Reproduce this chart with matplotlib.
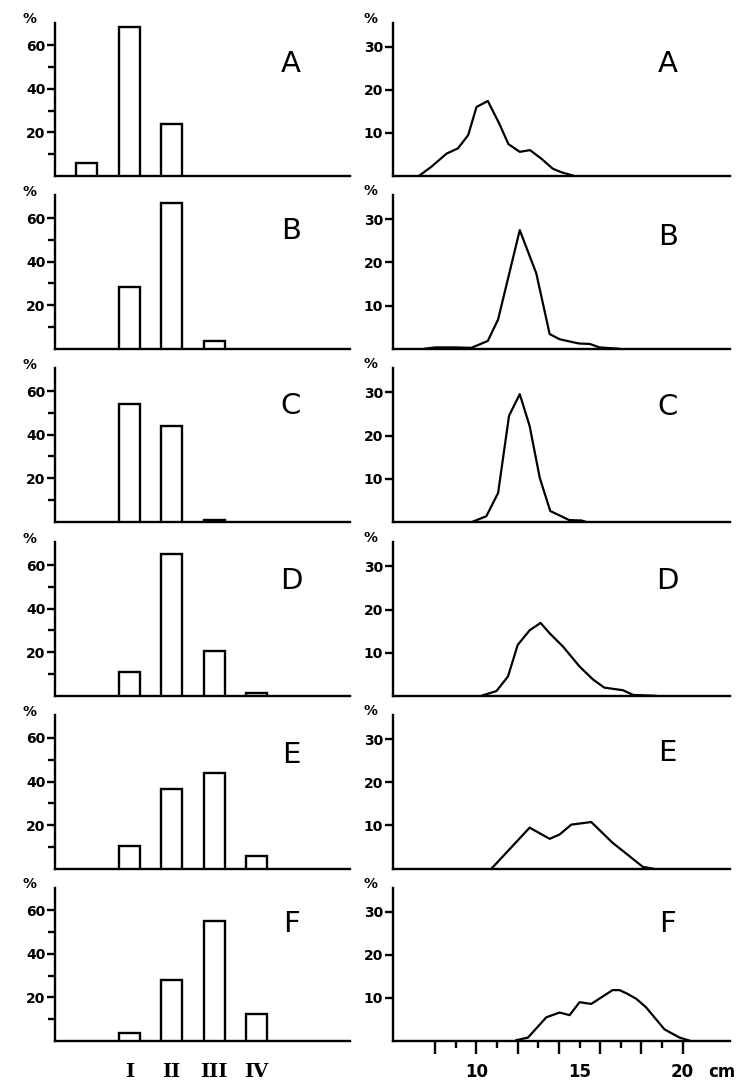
import matplotlib
matplotlib.use("Agg")
import matplotlib.pyplot as plt
import matplotlib.transforms as mtransforms

# ---------------- data ----------------
panels = ["A", "B", "C", "D", "E", "F"]
class_positions = [0, 1, 2, 3, 4]
class_labels = ["", "I", "II", "III", "IV"]

bars_A = [6, 68.5, 24, 0, 0]
bars_B = [0, 28.5, 67, 3.5, 0]
bars_C = [0, 54, 44, 0.6, 0]
bars_D = [0, 11, 65, 20.5, 1.5]
bars_E = [0, 10.5, 36.5, 44, 6]
bars_F = [0, 3.5, 28, 55, 12.5]

len_A_x = [7.2, 7.8, 8.55, 9.1, 9.6, 10.0, 10.55, 11.1, 11.55, 12.1, 12.6, 13.15, 13.7, 14.1, 14.75]
len_A_y = [0, 2.1, 5.2, 6.4, 9.5, 16.0, 17.4, 12.2, 7.4, 5.6, 6.0, 4.0, 1.7, 0.9, 0]
len_B_x = [7.5, 8.0, 9.0, 9.75, 10.55, 11.05, 12.1, 12.9, 13.55, 14.03, 14.68, 15.0, 15.5, 15.97, 16.9]
len_B_y = [0, 0.3, 0.3, 0.2, 1.8, 6.8, 27.5, 17.5, 3.4, 2.2, 1.5, 1.2, 1.1, 0.3, 0]
len_C_x = [9.8, 10.48, 11.05, 11.58, 12.1, 12.58, 13.07, 13.58, 14.5, 15.1, 15.3]
len_C_y = [0, 1.3, 6.7, 24.6, 29.6, 22.2, 10.2, 2.5, 0.4, 0.3, 0]
len_D_x = [10.3, 10.97, 11.53, 12.0, 12.58, 13.11, 13.55, 14.2, 15.0, 15.65, 16.2, 17.1, 17.6, 18.7]
len_D_y = [0.1, 1.1, 4.5, 11.8, 15.2, 16.9, 14.5, 11.4, 6.8, 3.8, 1.9, 1.3, 0.2, 0]
len_E_x = [10.73, 12.58, 13.55, 14.03, 14.6, 15.57, 16.6, 17.26, 18.07, 18.55]
len_E_y = [0, 9.5, 6.9, 7.9, 10.2, 10.8, 6.0, 3.5, 0.4, 0]
len_F_x = [11.94, 12.5, 13.39, 14.03, 14.52, 15.0, 15.57, 16.6, 16.94, 17.3, 17.75, 18.23, 19.12, 19.85, 20.4]
len_F_y = [0.2, 0.8, 5.5, 6.6, 6.0, 9.0, 8.6, 11.8, 11.8, 11.0, 9.8, 7.8, 2.7, 0.8, 0]

len_major_ticks = [8, 10, 12, 14, 16, 18, 20]
len_minor_ticks = [9, 11, 13, 15, 17, 19]
len_tick_labels = [10, 15, 20]

bars = [bars_A, bars_B, bars_C, bars_D, bars_E, bars_F]
curves = [(len_A_x, len_A_y), (len_B_x, len_B_y), (len_C_x, len_C_y),
          (len_D_x, len_D_y), (len_E_x, len_E_y), (len_F_x, len_F_y)]
letter_y_left = [0.73, 0.77, 0.755, 0.75, 0.74, 0.76]
letter_y_right = [0.73, 0.73, 0.75, 0.75, 0.75, 0.76]

# ---------------- layout ----------------
W, H = 750, 1083
fig = plt.figure(figsize=(W / 100, H / 100), dpi=100)
fig.patch.set_facecolor("white")

row_base = [176, 348.7, 521.8, 695.8, 868.6, 1041]
ax_h = 153.5
LW = 1.7
tickfont = dict(family="DejaVu Sans", weight="bold", size=10)

for i, p in enumerate(panels):
    b = row_base[i]
    bottom = 1 - b / H
    height = ax_h / H

    # ---- left: bar chart ----
    axl = fig.add_axes([55 / W, bottom, 295 / W, height])
    vals = bars[i]
    xs = [x for x, v in zip(class_positions, vals) if v > 0]
    vs = [v for v in vals if v > 0]
    axl.bar(xs, vs, width=0.5, facecolor="white", edgecolor="black",
            linewidth=LW, zorder=3)
    axl.set_xlim(-0.75, 6.2)
    axl.set_ylim(0, 70.5)
    axl.set_yticks([20, 40, 60])
    axl.set_yticks([10, 30, 50], minor=True)
    axl.set_xticks([])
    axl.tick_params(axis="y", which="major", direction="out", length=6,
                    width=LW, pad=1)
    axl.tick_params(axis="y", which="minor", direction="out", length=5,
                    width=LW)
    for lab in axl.get_yticklabels():
        lab.set_fontproperties(tickfont)
    for s in ["top", "right"]:
        axl.spines[s].set_visible(False)
    for s in ["left", "bottom"]:
        axl.spines[s].set_linewidth(LW)
    axl.text(-0.085, 1.02, "%", transform=axl.transAxes, ha="center",
             va="center", fontsize=10, fontweight="bold")
    axl.text(0.80, letter_y_left[i], p, transform=axl.transAxes, ha="center",
             va="center", fontsize=21)
    if i == len(panels) - 1:
        tr = mtransforms.blended_transform_factory(axl.transData, axl.transAxes)
        for x, lab in zip(class_positions, class_labels):
            if lab:
                axl.text(x, -0.2, lab, transform=tr, ha="center", va="center",
                         fontsize=14, fontweight="bold", family="DejaVu Serif")

    # ---- right: length distribution ----
    axr = fig.add_axes([393 / W, bottom, 337 / W, height])
    cx, cy = curves[i]
    axr.plot(cx, cy, color="black", linewidth=1.6, solid_joinstyle="round",
             zorder=3)
    axr.set_xlim(5.95, 22.3)
    axr.set_ylim(0, 35.6)
    axr.set_yticks([10, 20, 30])
    axr.tick_params(axis="y", which="major", direction="out", length=6,
                    width=LW, pad=1)
    for lab in axr.get_yticklabels():
        lab.set_fontproperties(tickfont)
    for s in ["top", "right"]:
        axr.spines[s].set_visible(False)
    for s in ["left", "bottom"]:
        axr.spines[s].set_linewidth(LW)
    axr.text(-0.068, 1.025, "%", transform=axr.transAxes, ha="center",
             va="center", fontsize=10, fontweight="bold")
    axr.text(0.815, letter_y_right[i], p, transform=axr.transAxes,
             ha="center", va="center", fontsize=21)
    if i == len(panels) - 1:
        axr.set_xticks(len_major_ticks)
        axr.set_xticks(len_minor_ticks, minor=True)
        axr.set_xticklabels([])
        axr.tick_params(axis="x", which="major", direction="out", length=9,
                        width=LW)
        axr.tick_params(axis="x", which="minor", direction="out", length=5,
                        width=LW)
        tr = mtransforms.blended_transform_factory(axr.transData, axr.transAxes)
        for v in len_tick_labels:
            axr.text(v, -0.205, str(v), transform=tr, ha="center",
                     va="center", fontsize=12, fontweight="bold")
        axr.text(21.9, -0.205, "cm", transform=tr, ha="center", va="center",
                 fontsize=12, fontweight="bold")
    else:
        axr.set_xticks([])

fig.savefig("out.png", dpi=100, facecolor="white")
